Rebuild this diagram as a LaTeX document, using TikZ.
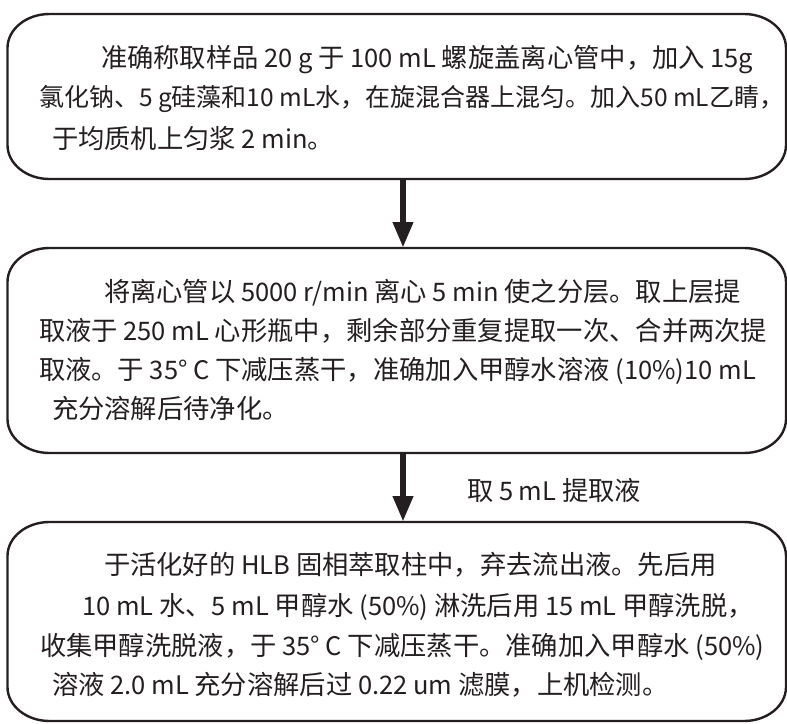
\documentclass[tikz,border=0pt]{standalone}
\usepackage{fontspec}
\setmainfont{Noto Sans CJK SC}
\usetikzlibrary{arrows.meta}
\definecolor{ink}{HTML}{231F20}
\newcommand\lt[1]{{\fontsize{25.5}{30}\selectfont #1}}
\newcommand\ls[1]{{\fontsize{24.5}{30}\selectfont #1}}
\newcommand\ovalframe[1]{%
  \draw[frame] ([xshift=42pt]#1.north west) -- ([xshift=-42pt]#1.north east)
    arc[start angle=90,end angle=0,x radius=42pt,y radius=34pt]
    -- ([yshift=34pt]#1.south east)
    arc[start angle=0,end angle=-90,x radius=42pt,y radius=34pt]
    -- ([xshift=42pt]#1.south west)
    arc[start angle=270,end angle=180,x radius=42pt,y radius=34pt]
    -- ([yshift=-34pt]#1.north west)
    arc[start angle=180,end angle=90,x radius=42pt,y radius=34pt]
    -- cycle;}
\tikzset{
  boxbase/.style={rectangle,draw=none,inner sep=0pt,outer sep=0pt,minimum width=778.5pt},
  frame/.style={draw=ink,line width=2.4pt},
  txt/.style={anchor=base west,inner sep=0pt,outer sep=0pt,text=ink,font=\fontsize{26.3}{30}\selectfont},
  txtsm/.style={txt,font=\fontsize{25}{30}\selectfont},
  arr/.style={draw=ink,line width=6.5pt,-{Triangle[length=26pt,width=19pt]}}
}
\begin{document}
\begin{tikzpicture}[x=1pt,y=-1pt]
\useasboundingbox (0,0) rectangle (787,723);
% boxes
\node[boxbase,minimum height=165pt] (b1) at (396.75,96.5) {};
\node[boxbase,minimum height=205pt] (b2) at (396.75,350.5) {};
\node[boxbase,minimum height=199pt] (b3) at (396.75,621.5) {};
\ovalframe{b1}
\ovalframe{b2}
\ovalframe{b3}
% box 1 text
\node[txt] (t11) at (101,67) {准确称取样品\lt{ 20 g }于\lt{ 100 mL }螺旋盖离心管中，加入\lt{ 15g}};
\node[txtsm] (t12) at (39,106.5) {氯化钠、\ls{5 g}硅藻和\ls{10 mL}水，在旋混合器上混匀。加入\ls{50 mL}乙睛，};
\node[txt] (t13) at (52,148) {于均质机上匀浆\lt{ 2 min}。};
% box 2 text
\node[txt] (t21) at (104,301) {将离心管以\lt{ 5000 r/min }离心\lt{ 5 min }使之分层。取上层提};
\node[txt] (t22) at (39,340) {取液于\lt{ 250 mL }心形瓶中，剩余部分重复提取一次、合并两次提};
\node[txt] (t23) at (39,379) {取液。于\lt{ 35° C }下减压蒸干，准确加入甲醇水溶液\lt{ (10\%)10 mL}};
\node[txt] (t24) at (52,418) {充分溶解后待净化。};
% box 3 text
\node[txt] (t31) at (104,574) {于活化好的\lt{ HLB }固相萃取柱中，弃去流出液。先后用};
\node[txt] (t32) at (82,615) {\lt{10 mL }水、\lt{5 mL }甲醇水\lt{ (50\%) }淋洗后用\lt{ 15 mL }甲醇洗脱，};
\node[txt] (t33) at (40,655) {收集甲醇洗脱液，于\lt{ 35° C }下减压蒸干。准确加入甲醇水\lt{ (50\%)}};
\node[txt] (t34) at (52,694) {溶液\lt{ 2.0 mL }充分溶解后过\lt{ 0.22 um }滤膜，上机检测。};
% arrows
\coordinate (ax) at (403,0);
\draw[arr] (b1.south -| ax) -- (b2.north -| ax);
\draw[arr] (b2.south -| ax) -- (b3.north -| ax);
\node[txt] (lab) at (467,500) {取\lt{ 5 mL }提取液};
\end{tikzpicture}
\end{document}
